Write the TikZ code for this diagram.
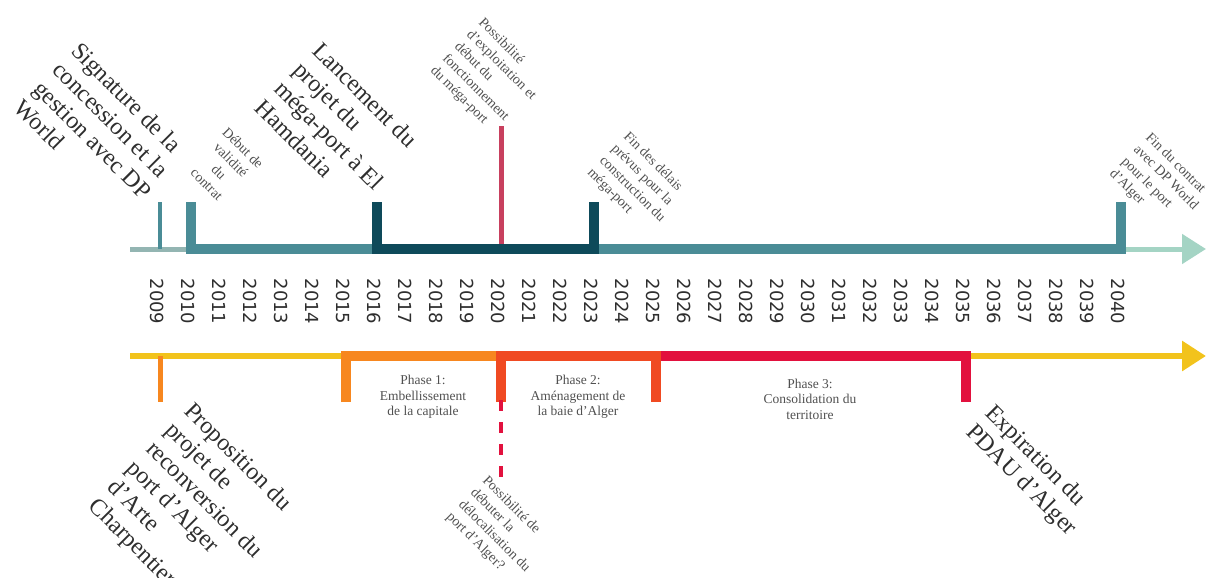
\documentclass[tikz,border=0pt]{standalone}
\usepackage{fontspec}
\setmainfont{Liberation Serif}
\newfontfamily\yearfont{DejaVu Sans}
\usetikzlibrary{arrows.meta}
\definecolor{teal1}{HTML}{4A8C96}
\definecolor{navy1}{HTML}{0E4A5A}
\definecolor{thinline}{HTML}{93B5B2}
\definecolor{mint}{HTML}{A4D4C4}
\definecolor{rose}{HTML}{C8405E}
\definecolor{gold}{HTML}{F2C31C}
\definecolor{orange1}{HTML}{F7871F}
\definecolor{redor}{HTML}{F04A22}
\definecolor{crimson}{HTML}{E2113E}
\definecolor{txt}{HTML}{2E2E2E}
\definecolor{txtl}{HTML}{505050}
\tikzset{
  biglabel/.style={font=\fontsize{24}{27}\selectfont, text=txt, align=left, inner sep=0pt, rotate=-45, anchor=north west},
  smalllabel/.style={font=\fontsize{14}{17}\selectfont, text=txtl, align=left, inner sep=0pt, rotate=-45, anchor=north west},
  phaselabel/.style={font=\fontsize{13.5}{15.5}\selectfont, text=txtl, align=center, inner sep=0pt},
  yearlabel/.style={font=\yearfont\fontsize{18}{18}\selectfont, text=txt, rotate=-90, inner sep=0pt},
  thickseg/.style={line width=10pt, line join=miter},
  arrowtip/.style={-{Triangle[length=24pt,width=29pt]}}
}
\begin{document}
\begin{tikzpicture}[x=1pt,y=-1pt]
\useasboundingbox (0,0) rectangle (1208,578);
% ---------- top timeline ----------
\draw[thinline, line width=5pt] (130,249) -- (1121,249);
\draw[mint, line width=5pt, arrowtip] (1120,249) -- (1206,249);
\draw[teal1, line width=4pt] (160,202) -- (160,249);
\draw[teal1, thickseg] (191,202) -- (191,249) -- (377,249);
\draw[teal1, thickseg] (594,249) -- (1121,249) -- (1121,202);
\draw[rose, line width=5pt] (501,126) -- (501,249);
\draw[navy1, thickseg] (377,202) -- (377,249) -- (594,249) -- (594,202);
% ---------- bottom timeline ----------
\draw[gold, line width=6pt] (130,356) -- (346,356);
\draw[gold, line width=6pt, arrowtip] (966,356) -- (1206,356);
\draw[orange1, line width=5pt] (160,356) -- (160,402);
\draw[orange1, thickseg] (346,402) -- (346,356) -- (501,356);
\draw[crimson, thickseg] (656,356) -- (966,356) -- (966,402);
\draw[redor, thickseg] (501,402) -- (501,356) -- (656,356) -- (656,402);
\draw[crimson, line width=4pt, dash pattern=on 11pt off 11pt] (501,400) -- (501,477);
% ---------- years ----------
\foreach \yr [count=\i from 0] in {2009,...,2040}
  \node[yearlabel] (y\yr) at ({157.5+31*\i},301.5) {\yr};
% ---------- top labels ----------
\node[biglabel] (sig) at (82,40) {Signature de la\\concession et la\\gestion avec DP\\World};
\node[smalllabel, align=center, anchor=center] (debut) at (225,166) {Début de\\validité\\du\\contrat};
\node[biglabel] (lanc) at (323,40) {Lancement du\\projet du\\méga-port à El\\Hamdania};
\node[smalllabel] (expl) at (485,16) {Possibilité\\d’exploitation et\\début du\\fonctionnement\\du méga-port};
\node[smalllabel] (findel) at (630,130) {Fin des délais\\prévus pour la\\construction du\\méga-port};
\node[smalllabel] (fincon) at (1152,131) {Fin du contrat\\avec DP World\\pour le port\\d’Alger};
% ---------- phases ----------
\node[phaselabel] (ph1) at (423,397) {Phase 1:\\Embellissement\\de la capitale};
\node[phaselabel] (ph2) at (578,397) {Phase 2:\\Aménagement de\\la baie d’Alger};
\node[phaselabel] (ph3) at (810,399) {Phase 3:\\Consolidation du\\territoire};
% ---------- bottom labels ----------
\node[biglabel] (prop) at (195,400) {Proposition du\\projet de\\reconversion du\\port d’Alger\\d’Arte\\Charpentier};
\node[smalllabel] (deloc) at (489,474) {Possibilité de\\débuter la\\délocalisation du\\port d’Alger?};
\node[biglabel] (expir) at (996,402) {Expiration du\\PDAU d’Alger};
\end{tikzpicture}
\end{document}
